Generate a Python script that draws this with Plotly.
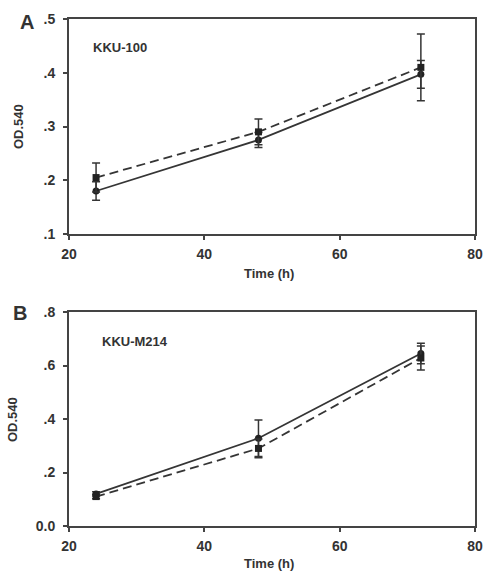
import plotly.graph_objects as go

time_h = [24, 48, 72]

# Panel A: KKU-100
a_solid = [0.180, 0.275, 0.397]
a_solid_err = [0.017, 0.014, 0.026]
a_dashed = [0.205, 0.290, 0.410]
a_dashed_err = [0.027, 0.024, 0.062]

# Panel B: KKU-M214
b_solid = [0.120, 0.328, 0.645]
b_solid_err = [0.008, 0.068, 0.038]
b_dashed = [0.110, 0.290, 0.628]
b_dashed_err = [0.008, 0.035, 0.045]

x_ticks = [20, 40, 60, 80]
x_labels = ["20", "40", "60", "80"]
a_yticks = [0.1, 0.2, 0.3, 0.4, 0.5]
a_ylabels = [".1", ".2", ".3", ".4", ".5"]
b_yticks = [0.0, 0.2, 0.4, 0.6, 0.8]
b_ylabels = ["0.0", ".2", ".4", ".6", ".8"]

LC = "#353535"
AX = "#444444"
FONT = "Liberation Sans, Arial, sans-serif"

fig = go.Figure()

def add_series(y, err, dash, symbol, xa, ya):
    fig.add_trace(go.Scatter(
        x=time_h, y=y, xaxis=xa, yaxis=ya, mode="lines+markers",
        line=dict(color=LC, width=1.8, dash=dash),
        marker=dict(symbol=symbol, size=7, color="#222222"),
        error_y=dict(type="data", array=err, visible=True, color=LC, thickness=1.5, width=4),
        showlegend=False))

add_series(a_solid, a_solid_err, "solid", "circle", "x", "y")
add_series(a_dashed, a_dashed_err, "9px,5px", "square", "x", "y")
add_series(b_solid, b_solid_err, "solid", "circle", "x2", "y2")
add_series(b_dashed, b_dashed_err, "9px,5px", "square", "x2", "y2")

xdom = [69/483, 475/483]
ydomA = [1-234/571, 1-19/571]
ydomB = [1-526/571, 1-312/571]

axcommon = dict(showgrid=False, zeroline=False, showline=True, linecolor=AX, linewidth=2,
                mirror=True, ticks="outside", ticklen=4, tickwidth=1.5, tickcolor=AX,
                automargin=False,
                tickfont=dict(family=FONT, size=14, color="#333333"))

def bold(lst):
    return [f"<b>{s}</b>" for s in lst]

fig.update_layout(
    width=483, height=571,
    margin=dict(l=0, r=0, t=0, b=0),
    paper_bgcolor="white", plot_bgcolor="white",
    font=dict(family=FONT, color="#333333"),
    xaxis=dict(domain=xdom, anchor="y", range=[20, 80], tickvals=x_ticks, ticktext=bold(x_labels),
               ticklabelstandoff=2, **axcommon),
    yaxis=dict(domain=ydomA, anchor="x", range=[0.1, 0.5], tickvals=a_yticks, ticktext=bold(a_ylabels),
               ticklabelstandoff=5, **axcommon),
    xaxis2=dict(domain=xdom, anchor="y2", range=[20, 80], tickvals=x_ticks, ticktext=bold(x_labels),
                ticklabelstandoff=2, **axcommon),
    yaxis2=dict(domain=ydomB, anchor="x2", range=[0.0, 0.8], tickvals=b_yticks, ticktext=bold(b_ylabels),
                ticklabelstandoff=5, **axcommon),
)

def ann(text, x, y, size, angle=0, xanchor="center"):
    fig.add_annotation(text=f"<b>{text}</b>", x=x/483, y=1-y/571,
                       xref="paper", yref="paper", showarrow=False, textangle=angle,
                       xanchor=xanchor, yanchor="middle",
                       font=dict(family=FONT, size=size, color="#333333"))

ann("A", 27, 22, 20)
ann("B", 20, 313, 20)
ann("OD.540", 18, 127, 13, angle=-90)
ann("OD.540", 12, 420, 13, angle=-90)
ann("Time (h)", 269, 273, 13)
ann("Time (h)", 269, 563, 13)
ann("KKU-100", 91, 47, 13, xanchor="left")
ann("KKU-M214", 100, 341, 13, xanchor="left")

fig.write_html("out.html", config={"displayModeBar": False},
               post_script="document.body.style.margin='0';document.body.style.padding='0';")
